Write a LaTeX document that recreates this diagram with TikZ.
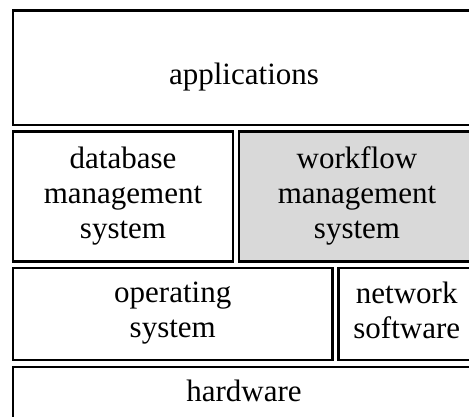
\documentclass[tikz,border=0pt]{standalone}
\usepackage{fontspec}
\setmainfont{Liberation Serif}
\definecolor{wfgray}{RGB}{217,217,217}

\begin{document}
\begin{tikzpicture}[x=1pt, y=-1pt, line width=2.5pt,
    font=\fontsize{31}{35}\selectfont]

  \def\boxL{13}
  \def\boxR{475}

  \tikzset{lbl/.style={anchor=north, align=center, inner sep=0pt}}

  % Area visibile (i box escono a destra e in basso)
  \useasboundingbox (0,0) rectangle (469,416);
  \clip (0,0) rectangle (469,416);

  % --- BOX DEI LIVELLI ---
  \draw (\boxL, 10.5) rectangle (\boxR, 125);
  \draw (\boxL, 131.5) rectangle (233, 261.5);
  \draw[fill=wfgray] (239, 131.5) rectangle (\boxR, 261.5);
  \draw (\boxL, 268) rectangle (332.5, 360);
  \draw (338.5, 268) rectangle (\boxR, 360);
  \draw (\boxL, 367) rectangle (\boxR, 440);

  % --- TESTI (centrati nei box) ---
  \node[lbl] (apps) at (244, 61.8) {applications};
  \node[lbl] (dbms) at (123, 145.8) {database\\ management\\ system};
  \node[lbl] (wfms) at (357, 145.8) {workflow\\ management\\ system};
  \node[lbl] (os) at (172.75, 280.8) {operating\\ system};
  \node[lbl] (net) at (406.75, 280.8) {network\\ software};
  \node[lbl] (hw) at (244, 378.8) {hardware};

\end{tikzpicture}
\end{document}
